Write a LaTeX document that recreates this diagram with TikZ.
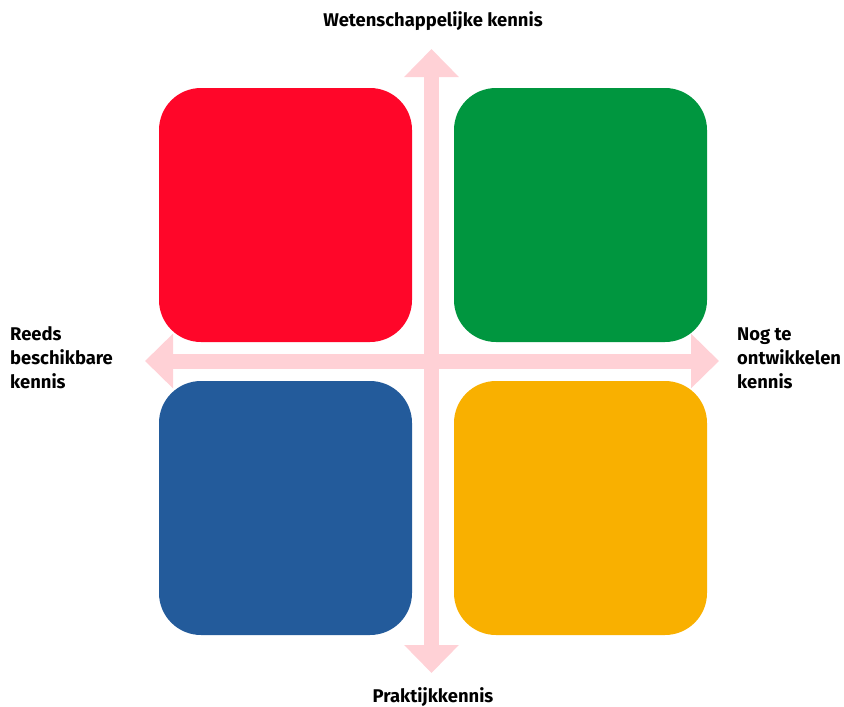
\documentclass[tikz,border=0pt]{standalone}
\usepackage{fontspec}
\setmainfont{Fira Sans}
\usetikzlibrary{arrows.meta}
\definecolor{qred}{HTML}{FF0629}
\definecolor{qgreen}{HTML}{00963F}
\definecolor{qblue}{HTML}{235B9B}
\definecolor{qyellow}{HTML}{F9B000}
\definecolor{qpink}{HTML}{FFD1D6}
\tikzset{
  quad/.style={rounded corners=42pt, inner sep=0pt, minimum width=253pt, minimum height=254pt},
  axis/.style={draw=qpink, line width=15pt,
    {Triangle[width=53pt,length=28pt]}-{Triangle[width=53pt,length=28pt]}},
  lbl/.style={font=\fontsize{18.4}{24}\selectfont\bfseries, inner sep=0pt, align=left}
}
\begin{document}
\begin{tikzpicture}[x=1pt,y=-1pt]
\useasboundingbox (0,0) rectangle (844,707);
\coordinate (top) at (431.5,49);
\coordinate (bot) at (431.5,673);
\coordinate (lft) at (145,361);
\coordinate (rgt) at (719,361);
\draw[axis] (top) -- (bot);
\draw[axis] (lft) -- (rgt);
\node[quad, fill=qred]    (q1) at (285.5,215) {};
\node[quad, fill=qgreen]  (q2) at (580.5,215) {};
\node[quad, fill=qblue]   (q3) at (285.5,508) {};
\node[quad, fill=qyellow] (q4) at (580.5,508) {};
\node[lbl] (tl) at (433,21) {Wetenschappelijke kennis};
\node[lbl] (bl) at (433,697) {Praktijkkennis};
\node[lbl, anchor=west] (ll) at (10,358) {Reeds\\beschikbare\\kennis};
\node[lbl, anchor=west] (rl) at (737,358) {Nog te\\ontwikkelen\\kennis};
\end{tikzpicture}
\end{document}
